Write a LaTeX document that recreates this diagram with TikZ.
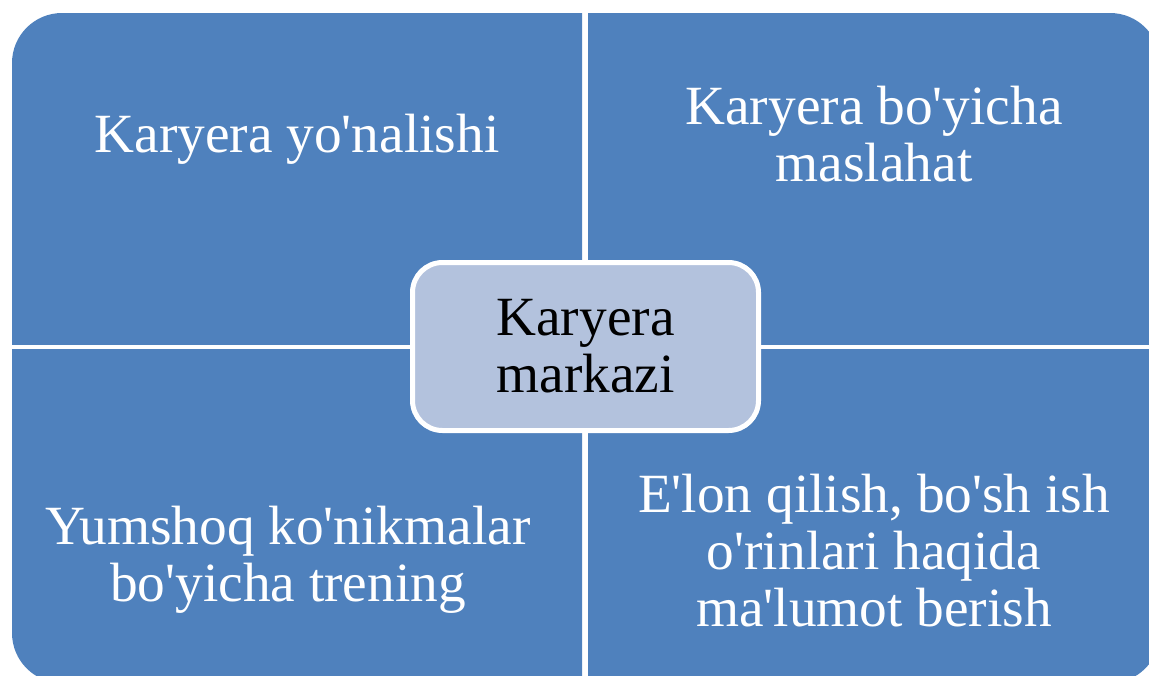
\documentclass[tikz,border=0pt]{standalone}
\usepackage{fontspec}
\setmainfont{Liberation Serif}[Ligatures=TeXOff]
\definecolor{quadblue}{HTML}{4F81BD}
\definecolor{hubfill}{HTML}{B3C2DD}
\newcommand{\bigtext}{\fontsize{41.5}{42.75}\selectfont}
\begin{document}
\begin{tikzpicture}[x=0.75pt, y=-0.75pt,
	quad/.style={fill=quadblue, rounded corners=37.5pt},
	quadtext/.style={text=white, font=\bigtext, align=center, inner sep=0pt, text depth=0pt, anchor=south},
	hub/.style={draw=white, line width=3.75pt, fill=hubfill, rounded corners=22.5pt, minimum width=259.5pt, minimum height=126pt, inner sep=0pt, font=\bigtext, align=center}]
	\useasboundingbox (0,0) rectangle (1149,675);
	% four quadrants cut from one rounded block
	\foreach \xa/\ya/\xb/\yb in {12/13/582/344, 588/13/1160/344, 12/349/582/683, 588/349/1160/683}{
		\begin{scope}
			\clip (\xa,\ya) rectangle (\xb,\yb);
			\fill[quad] (12,13) rectangle (1160,683);
		\end{scope}
	}
	\node[quadtext] (direction) at (297,153) {Karyera yo'nalishi};
	\node[quadtext] (advice) at (874,182) {Karyera bo'yicha\\maslahat};
	\node[quadtext] (training) at (288,602) {Yumshoq ko'nikmalar\\bo'yicha trening};
	\node[quadtext] (vacancy) at (874,627) {E'lon qilish, bo'sh ish\\o'rinlari haqida\\ma'lumot berish};
	
	\node[hub] (hub) at (585.5,346.5) {Karyera\\markazi};
\end{tikzpicture}
\end{document}
